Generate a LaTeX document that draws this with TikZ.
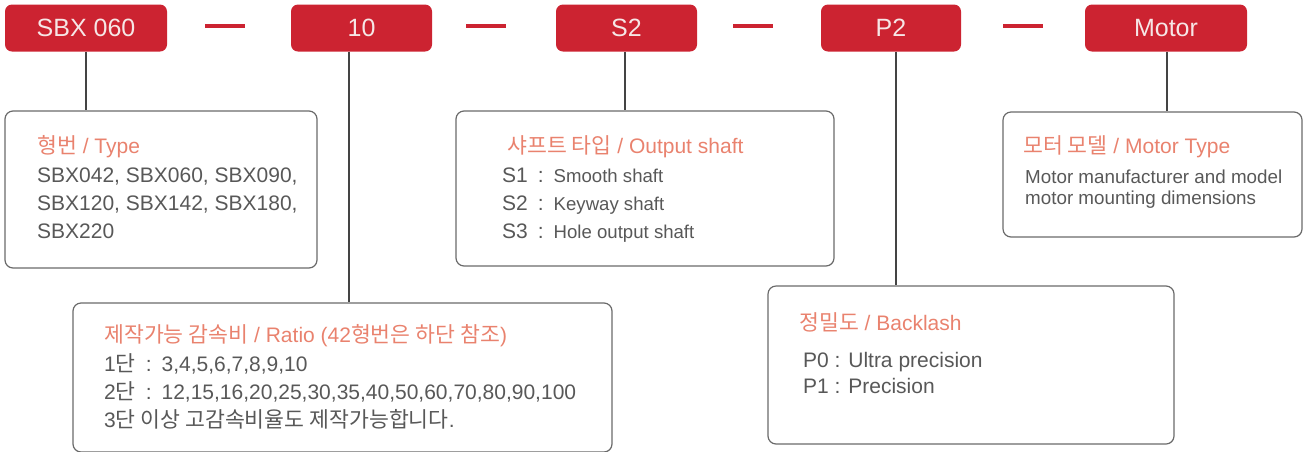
\documentclass[tikz,border=0pt]{standalone}
\usepackage{fontspec}
\setmainfont{Liberation Sans}
\newfontfamily\kr{Noto Sans CJK KR}[Scale=1.03]
\newcommand\fsz[1]{\fontsize{#1}{#1}\selectfont}
\definecolor{brandred}{HTML}{CC2331}
\definecolor{boxtext}{HTML}{F6E6E6}
\definecolor{titlecol}{HTML}{E9826E}
\definecolor{bodygray}{HTML}{585858}
\definecolor{bordergray}{HTML}{6A6A6A}
\definecolor{linegray}{HTML}{444444}
\tikzset{
  redbox/.style={fill=brandred, rounded corners=7pt, minimum height=47pt, inner sep=0pt, text=boxtext, font=\fsz{25}},
  dashbar/.style={fill=brandred, minimum width=40pt, minimum height=4pt, inner sep=0pt},
  infobox/.style={draw=bordergray, line width=1.2pt, rounded corners=8pt, inner sep=0pt},
  ttl/.style={anchor=base west, inner sep=0pt, text=titlecol, font=\fsz{21}},
  body/.style={anchor=base west, inner sep=0pt, text=bodygray, font=\fsz{21}},
  smallbody/.style={anchor=base west, inner sep=0pt, text=bodygray, font=\fsz{18.8}},
  conn/.style={draw=linegray, line width=1.4pt}
}
\begin{document}
\begin{tikzpicture}[x=1pt,y=-1pt]
\useasboundingbox (0,0) rectangle (1303,451);
% header boxes
\node[redbox, minimum width=162pt] (sbx) at (86,28) {SBX 060};
\node[redbox, minimum width=141pt] (ten) at (361.5,28) {10};
\node[redbox, minimum width=141pt] (s2) at (626.5,28) {S2};
\node[redbox, minimum width=140pt] (p2) at (891,28) {P2};
\node[redbox, minimum width=162pt] (motor) at (1166,28) {Motor};
% separators
\node[dashbar] (d1) at (225,26) {};
\node[dashbar] (d2) at (486,26) {};
\node[dashbar] (d3) at (753,26) {};
\node[dashbar] (d4) at (1023,26) {};
% info boxes
\node[infobox, minimum width=312pt, minimum height=157pt] (type) at (161,189.5) {};
\node[infobox, minimum width=378pt, minimum height=155pt] (shaft) at (645,188.5) {};
\node[infobox, minimum width=299pt, minimum height=125pt] (mot) at (1152.5,174.5) {};
\node[infobox, minimum width=539pt, minimum height=149pt] (ratio) at (342.5,377.5) {};
\node[infobox, minimum width=406pt, minimum height=158pt] (back) at (971,365) {};
% connectors
\draw[conn] (sbx.south) -- (sbx.south |- type.north);
\draw[conn] ([xshift=-12.5pt]ten.south) -- ([xshift=-12.5pt]ten.south |- ratio.north);
\draw[conn] ([xshift=-1.5pt]s2.south) -- ([xshift=-1.5pt]s2.south |- shaft.north);
\draw[conn] ([xshift=5pt]p2.south) -- ([xshift=5pt]p2.south |- back.north);
\draw[conn] ([xshift=1pt]motor.south) -- ([xshift=1pt]motor.south |- mot.north);
% type box texts
\node[ttl] (typet) at (37,153) {{\kr 형번} / Type};
\node[body] (type1) at (37,182) {SBX042, SBX060, SBX090,};
\node[body] (type2) at (37,210) {SBX120, SBX142, SBX180,};
\node[body] (type3) at (37,238) {SBX220};
% shaft box texts
\node[ttl] (shaftt) at (507,153) {{\kr 샤프트 타입} / Output shaft};
\node[body] (shaft1) at (502,182) {S1\hspace{10pt}:\hspace{10pt}{\fsz{18.6}Smooth shaft}};
\node[body] (shaft2) at (502,210) {S2\hspace{10pt}:\hspace{10pt}{\fsz{18.6}Keyway shaft}};
\node[body] (shaft3) at (502,238) {S3\hspace{10pt}:\hspace{10pt}{\fsz{18.6}Hole output shaft}};
% motor box texts
\node[ttl] (mott) at (1023,153) {{\kr 모터 모델} / Motor Type};
\node[smallbody] (mot1) at (1025,183) {Motor manufacturer and model};
\node[smallbody] (mot2) at (1025,204) {motor mounting dimensions};
% ratio box texts
\node[ttl] (ratiot) at (104,342) {{\kr 제작가능 감속비} / Ratio (42{\kr 형번은 하단 참조})};
\node[body] (ratio1) at (104,371) {1{\kr 단}\hspace{10pt}:\hspace{10pt}3,4,5,6,7,8,9,10};
\node[body] (ratio2) at (104,399) {2{\kr 단}\hspace{10pt}:\hspace{10pt}12,15,16,20,25,30,35,40,50,60,70,80,90,100};
\node[body] (ratio3) at (104,427) {3{\kr 단 이상 고감속비율도 제작가능합니다}.};
% backlash box texts
\node[ttl] (backt) at (799,330) {{\kr 정밀도} / Backlash};
\node[body] (back1) at (803,367) {P0 : Ultra precision};
\node[body] (back2) at (803,393) {P1 : Precision};
\end{tikzpicture}
\end{document}
